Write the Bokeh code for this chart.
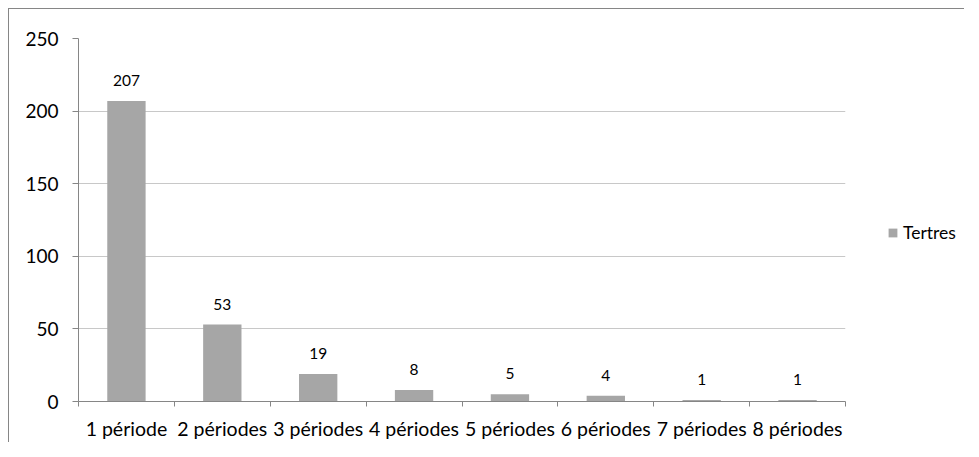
from bokeh.plotting import figure
from bokeh.layouts import row
from bokeh.models import FixedTicker, ColumnDataSource, LabelSet, Legend, LegendItem, Range1d
from bokeh.core.properties import value
from bokeh.embed import file_html
from bokeh.resources import INLINE

categories = ["1 période", "2 périodes", "3 périodes", "4 périodes",
              "5 périodes", "6 périodes", "7 périodes", "8 périodes"]
values = [207, 53, 19, 8, 5, 4, 1, 1]
series_name = "Tertres"
y_ticks = [0, 50, 100, 150, 200, 250]

FONT = "Lato"
BAR = "#A6A6A6"
AXIS = "#868686"
GRID = "#C8C8C8"

xs = [i + 0.5 for i in range(len(categories))]
src = ColumnDataSource(dict(x=xs, top=values, lab=[str(v) for v in values]))

p = figure(width=846, height=433, output_backend="svg", toolbar_location=None,
           x_range=(0, len(categories)), y_range=(0, 250),
           min_border_left=69, min_border_right=10, min_border_top=29, min_border_bottom=38)
p.outline_line_color = None
p.background_fill_color = "white"

r = p.vbar(x="x", top="top", width=0.4, source=src, fill_color=BAR, line_color=None)

labels = LabelSet(x="x", y="top", text="lab", source=src, text_align="center",
                  text_baseline="alphabetic", y_offset=15, text_font=value(FONT),
                  text_font_size="15.5px", text_color="black")
p.add_layout(labels)

# x axis
p.xaxis.ticker = FixedTicker(ticks=xs, minor_ticks=list(range(len(categories) + 1)))
p.xaxis.major_label_overrides = {x: c for x, c in zip(xs, categories)}
p.xaxis.major_tick_line_color = None
p.xaxis.minor_tick_line_color = AXIS
p.xaxis.minor_tick_out = 5
p.xaxis.minor_tick_in = 0
p.xaxis.axis_line_color = AXIS
p.xaxis.major_label_text_font = FONT
p.xaxis.major_label_text_font_size = "19.5px"
p.xaxis.major_label_text_color = "black"
p.xaxis.major_label_standoff = 9

# y axis
p.yaxis.ticker = FixedTicker(ticks=y_ticks, minor_ticks=[])
p.yaxis.major_tick_line_color = AXIS
p.yaxis.major_tick_out = 6
p.yaxis.major_tick_in = 0
p.yaxis.axis_line_color = AXIS
p.yaxis.major_label_text_font = FONT
p.yaxis.major_label_text_font_size = "19px"
p.yaxis.major_label_text_color = "black"
p.yaxis.major_label_standoff = 14

p.xgrid.grid_line_color = None
p.ygrid.grid_line_color = GRID
p.ygrid.ticker = FixedTicker(ticks=y_ticks)

# legend panel (its sample bar lies entirely outside the panel's visible range)
p2 = figure(width=109, height=433, output_backend="svg", toolbar_location=None,
            x_axis_type=None, y_axis_type=None,
            x_range=Range1d(-30, -20), y_range=Range1d(-30, -20),
            min_border=0, min_border_left=0, min_border_right=0,
            min_border_top=0, min_border_bottom=0)
p2.outline_line_color = None
p2.xgrid.grid_line_color = None
p2.ygrid.grid_line_color = None
r2 = p2.vbar(x=xs[:1], top=values[:1], width=0.4, fill_color=BAR, line_color=None)

legend = Legend(items=[LegendItem(label=series_name, renderers=[r2])],
                location=(32, 158), padding=0, margin=0, border_line_color=None,
                background_fill_alpha=0, glyph_width=11, glyph_height=11,
                label_text_font=FONT, label_text_font_size="17.5px",
                label_text_color="black", label_standoff=5)
p2.add_layout(legend, "center")

layout = row(p, p2, spacing=0)
layout.styles = {"border-left": f"1px solid {AXIS}", "border-top": f"1px solid {AXIS}",
                 "margin-left": "8px", "margin-top": "8px"}

open("out.html", "w").write(file_html(layout, INLINE))
